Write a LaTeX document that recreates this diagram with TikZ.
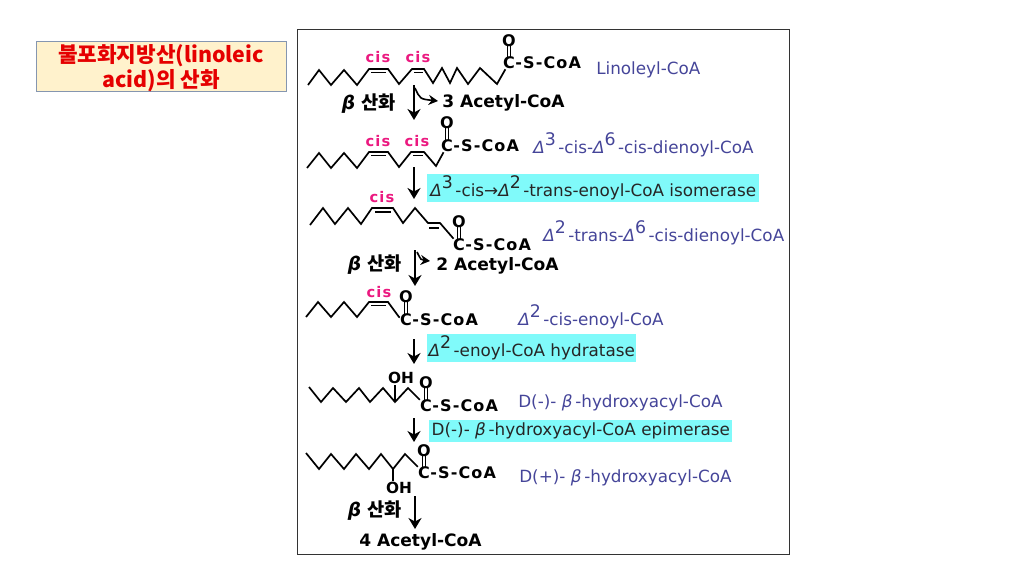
\documentclass[tikz,border=0pt]{standalone}
\usepackage{fontspec}
\setmainfont{DejaVu Sans}
\newfontfamily\krfont{Noto Sans CJK KR}
\usetikzlibrary{arrows.meta}
\newlength{\du}
\setlength{\du}{0.75pt}
\definecolor{titlefill}{rgb}{1.000000, 0.949000, 0.800000}
\definecolor{titleline}{rgb}{0.520000, 0.590000, 0.690000}
\definecolor{enzymefill}{rgb}{0.500000, 0.980000, 0.980000}
\definecolor{namecolor}{rgb}{0.270000, 0.270000, 0.600000}
\definecolor{ciscolor}{rgb}{0.920000, 0.100000, 0.500000}
\tikzset{
  chain/.style={line width=1.7\du, line join=miter, black},
  bondtwo/.style={line width=1.7\du, black},
  reactarrow/.style={line width=2.2\du, -{Stealth[length=8.25pt,width=9.75pt]}},
  sidearrow/.style={line width=1.6\du, -{Stealth[length=7pt,width=7.5pt]}},
  atom/.style={inner sep=0pt, font=\fontsize{12}{14}\selectfont\bfseries\addfontfeatures{LetterSpace=7}},
  hydroxy/.style={inner sep=0pt, font=\fontsize{11.5}{14}\selectfont\bfseries},
  cislabel/.style={inner sep=0pt, text=ciscolor, font=\fontsize{11}{13}\selectfont\bfseries\addfontfeatures{LetterSpace=8}},
  product/.style={inner sep=0pt, anchor=west, font=\fontsize{12.8}{14}\selectfont\bfseries},
  betalabel/.style={inner sep=0pt, font=\fontsize{14}{16}\selectfont\bfseries},
  cname/.style={inner sep=0pt, anchor=west, text=namecolor, font=\fontsize{12.6}{14}\selectfont},
  enzyme/.style={inner sep=0pt, anchor=west, fill=enzymefill, text=black!85, font=\fontsize{12.6}{14}\selectfont},
}
\newcommand{\dlt}[1]{{\itshape Δ}\raisebox{0.45em}{\fontsize{13}{13}\selectfont #1}\hspace{0.15em}}
\newcommand{\bta}{{\itshape β}}
% C(=O)-S-CoA end of a chain: name, x, y of the C, y of the O
\newcommand{\acylend}[4]{
\node (c#1) [atom] at (#2\du,#3\du) {C};
\node (o#1) [atom] at (#2\du,#4\du) {O};
\node (s#1) [atom, anchor=west] at (c#1.east) {-S-CoA};
\draw [bondtwo, line width=1.2\du, shorten <=-1\du, shorten >=-1\du] ([xshift=-1.5\du]o#1.south) -- ([xshift=-1.5\du]c#1.north);
\draw [bondtwo, line width=1.2\du, shorten <=-1\du, shorten >=-1\du] ([xshift=1.5\du]o#1.south) -- ([xshift=1.5\du]c#1.north);
}

\begin{document}
\begin{tikzpicture}
\pgftransformxscale{1.000000}
\pgftransformyscale{-1.000000}
\useasboundingbox (0\du,0\du) rectangle (1024\du,576\du);
% title
\node (titlebox) [draw=titleline, line width=1\du, fill=titlefill, minimum width=250\du, minimum height=50\du, inner sep=0pt] at (161\du,66\du) {};
\node (title) [inner sep=0pt, align=center, text=red!90!black, font=\krfont\fontsize{16}{19}\selectfont\bfseries] at (161\du,68\du) {불포화지방산(linoleic\\acid)의 산화};
% panel
\node (panel) [draw=black!80, line width=1\du, minimum width=492\du, minimum height=525\du, inner sep=0pt] at (543\du,291.500000\du) {};
% enzyme bars
\node (isomerase) [enzyme, minimum width=332\du, minimum height=28\du] at (427\du,188\du) {\dlt{3}-cis→\dlt{2}-trans-enoyl-CoA isomerase};
\node (hydratase) [enzyme, minimum width=209\du, minimum height=28\du] at (427\du,348\du) {\dlt{2}-enoyl-CoA hydratase};
\node (epimerase) [enzyme, minimum width=303\du, minimum height=22\du] at (429\du,431\du) {D(-)- \bta\,-hydroxyacyl-CoA epimerase};
% linoleyl
\acylend{1}{509}{63}{41}
\draw [chain] (308\du,85\du)--(319\du,70\du)--(331\du,85\du)--(344\du,70\du)--(357\du,85\du)--(369\du,69\du)--(388\du,69\du)--(399\du,84\du)--(412\du,69\du)--(424\du,69\du)--(433\du,83\du)--(442\du,68\du)--(450\du,83\du)--(457\du,68\du)--(468\du,84\du)--(480\du,68\du)--(497\du,84\du)--(c1);
\draw [bondtwo] (371\du,72.500000\du)--(386\du,72.500000\du);
\draw [bondtwo] (414\du,72.500000\du)--(423\du,72.500000\du);
\node (cis1a) [cislabel] at (378\du,57\du) {cis};
\node (cis1b) [cislabel] at (418\du,57\du) {cis};
\node (name1) [cname] at (596\du,70\du) {Linoleyl-CoA};
% first beta oxidation
\coordinate (top1) at (414\du,85\du);
\coordinate (bot1) at (414\du,120\du);
\coordinate (bend1) at (415\du,88\du);
\coordinate (tip1) at (438\du,101\du);
\node (acetyl1) [product] at (442\du,103\du) {3 Acetyl-CoA};
\node (beta1) [betalabel] at (369\du,104\du) {\bta\ \krfont 산화};
\draw [reactarrow] (top1)--(bot1);
\draw [sidearrow] (bend1) .. controls (420\du,99\du) .. (tip1);
% dienoyl
\acylend{2}{447}{146}{123}
\draw [chain] (307\du,168\du)--(319\du,153\du)--(331\du,168\du)--(344\du,153\du)--(357\du,168\du)--(369\du,152\du)--(388\du,152\du)--(399\du,167\du)--(411\du,152\du)--(424\du,152\du)--(436\du,166\du)--(c2);
\draw [bondtwo] (371\du,155.500000\du)--(386\du,155.500000\du);
\draw [bondtwo] (413\du,155.500000\du)--(423\du,155.500000\du);
\node (cis2a) [cislabel] at (378\du,141\du) {cis};
\node (cis2b) [cislabel] at (417\du,141\du) {cis};
\node (name2) [cname] at (533\du,145\du) {\dlt{3}-cis-\dlt{6}-cis-dienoyl-CoA};
\coordinate (top2) at (414\du,167\du);
\coordinate (bot2) at (414\du,199\du);
\draw [reactarrow] (top2)--(bot2);
% trans dienoyl
\acylend{3}{459}{245}{222}
\draw [chain] (310\du,225\du)--(323\du,208\du)--(335\du,224\du)--(348\du,208\du)--(361\du,224\du)--(372\du,208\du)--(393\du,208\du)--(403\du,223\du)--(415\du,208\du)--(428\du,223\du)--(440\du,223\du)--(c3);
\draw [bondtwo] (375\du,212\du)--(391\du,212\du);
\draw [bondtwo] (429\du,228\du)--(439\du,228\du);
\node (cis3a) [cislabel] at (382\du,197\du) {cis};
\node (name3) [cname] at (543\du,233\du) {\dlt{2}-trans-\dlt{6}-cis-dienoyl-CoA};
% second beta oxidation
\coordinate (top3) at (415\du,250\du);
\coordinate (bot3) at (415\du,286\du);
\coordinate (bend3) at (417\du,252\du);
\coordinate (tip3) at (430\du,261\du);
\node (acetyl3) [product] at (436\du,266\du) {2 Acetyl-CoA};
\node (beta3) [betalabel] at (375\du,265\du) {\bta\ \krfont 산화};
\draw [reactarrow] (top3)--(bot3);
\draw [sidearrow] (bend3) .. controls (421\du,260\du) .. (tip3);
% cis enoyl
\acylend{4}{406}{320}{297}
\draw [chain] (306\du,317\du)--(318\du,302\du)--(331\du,317\du)--(344\du,302\du)--(357\du,317\du)--(369\du,302\du)--(388\du,302\du)--(399\du,317\du)--(c4);
\draw [bondtwo] (371\du,305.500000\du)--(386\du,305.500000\du);
\node (cis4a) [cislabel] at (379\du,292\du) {cis};
\node (name4) [cname] at (518\du,317\du) {\dlt{2}-cis-enoyl-CoA};
\coordinate (top4) at (414\du,339\du);
\coordinate (bot4) at (414\du,364\du);
\draw [reactarrow] (top4)--(bot4);
% D(-) hydroxyacyl
\acylend{5}{426}{406}{383}
\draw [chain] (309\du,387\du)--(321\du,402\du)--(333\du,388\du)--(346\du,402\du)--(359\du,388\du)--(370\du,402\du)--(383\du,388\du)--(395\du,402\du)--(408\du,388\du)--(c5);
\node (oh5) [hydroxy] at (401\du,378\du) {OH};
\draw [chain] (395\du,402\du)--(395\du,385\du);
\node (name5) [cname] at (518\du,403\du) {D(-)- \bta\,-hydroxyacyl-CoA};
\coordinate (top5) at (414\du,418\du);
\coordinate (bot5) at (414\du,442\du);
\draw [reactarrow] (top5)--(bot5);
% D(+) hydroxyacyl
\acylend{6}{424}{473}{451}
\draw [chain] (306\du,453\du)--(319\du,469\du)--(331\du,454\du)--(344\du,469\du)--(356\du,454\du)--(369\du,469\du)--(381\du,454\du)--(393\du,469\du)--(405\du,454\du)--(c6);
\node (oh6) [hydroxy] at (399\du,488\du) {OH};
\draw [chain] (393\du,469\du)--(393\du,481\du);
\node (name6) [cname] at (519\du,478\du) {D(+)- \bta\,-hydroxyacyl-CoA};
% last beta oxidation
\coordinate (top6) at (415\du,496\du);
\coordinate (bot6) at (415\du,529\du);
\node (beta6) [betalabel] at (375\du,511\du) {\bta\ \krfont 산화};
\node (acetyl6) [product] at (359\du,542\du) {4 Acetyl-CoA};
\draw [reactarrow] (top6)--(bot6);
\end{tikzpicture}
\end{document}
